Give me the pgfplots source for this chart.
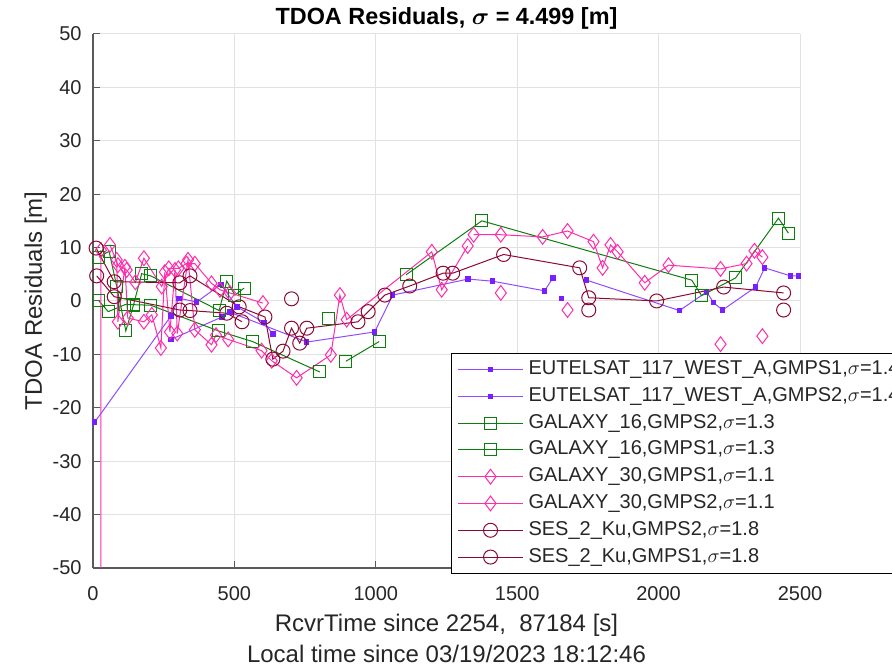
\documentclass[border=0pt]{standalone}
\usepackage{pgfplots}
\pgfplotsset{compat=1.18}
\usepackage{fontspec}
\setmainfont{Liberation Sans}
\usepackage{bm}
\definecolor{axisgray}{RGB}{90,90,90}
\definecolor{gridgray}{RGB}{225,225,225}
\definecolor{labgray}{RGB}{38,38,38}
\definecolor{purpleL}{RGB}{145,75,255}
\definecolor{purpleM}{RGB}{120,30,255}
\definecolor{greenL}{RGB}{10,128,10}
\definecolor{pinkL}{RGB}{255,45,170}
\definecolor{redL}{RGB}{140,10,50}
\begin{document}
\begin{tikzpicture}
\begin{axis}[
  name=ax, at={(0,0)}, anchor=south west,
  scale only axis, width=353.5pt, height=267pt,
  xmin=0, xmax=2500, ymin=-50, ymax=50,
  xtick={0,500,1000,1500,2000,2500},
  ytick={-50,-40,-30,-20,-10,0,10,20,30,40,50},
  axis x line*=bottom, axis y line*=left,
  axis line style={-, draw=axisgray, line width=0.6pt},
  tick align=inside, major tick length=3.5pt,
  tick style={draw=axisgray, line width=0.5pt},
  grid=major, major grid style={draw=gridgray, line width=0.5pt},
  ticklabel style={font=\fontsize{10}{12}\selectfont, text=labgray},
  /pgf/number format/assume math mode=true,
  /pgf/number format/1000 sep={},
  scaled ticks=false,
  xticklabel style={anchor=base, yshift=-16.5pt},
  yticklabel style={xshift=-2.2pt},
  unbounded coords=jump,
  title={\textbf{TDOA Residuals, $\bm{\sigma}$ = 4.499 [m]}},
  title style={at={(axis description cs:0.5,1)}, anchor=base, yshift=-1.5pt, font=\fontsize{11.7}{14}\selectfont, text=black, inner sep=0pt},
  xlabel={RcvrTime since 2254,\ \ 87184 [s]\\Local time since 03/19/2023 18:12:46},
  xlabel style={at={(axis description cs:0.5,0)}, anchor=base, yshift=-47.5pt, align=center, font=\fontsize{12}{15.5}\selectfont, text=labgray, inner sep=0pt},
  ylabel={TDOA Residuals [m]},
  ylabel style={at={([xshift=-25.5pt]axis description cs:0,0.5)}, anchor=base, rotate=0, font=\fontsize{12}{14}\selectfont, text=labgray, inner sep=0pt},
  legend cell align=left,
  legend image code/.code={\draw[mark repeat=2,mark phase=2,#1] plot coordinates {(0pt,0pt) (16.25pt,0pt) (32.5pt,0pt)};},
  legend style={at={(0.5064,0.4026)}, anchor=north west, draw=black, fill=white, line width=0.5pt,
    font=\fontsize{10}{12}\selectfont, text=labgray, inner sep=3pt, row sep=3.4pt,
    nodes={inner sep=0pt, text height=7.5pt, text depth=2.5pt},
    /tikz/every odd column/.append style={column sep=2.5pt}},
]
% EUTELSAT GMPS1
\addplot[color=purpleL, line width=0.5pt, mark=square*, mark size=1.1pt, mark options={solid, draw=purpleM, fill=purpleM}] coordinates {
(6,-22.7) (276,-2.8) (304,0.5) (367,-0.2) (452,3.1) (509,-1.1) (604,-4.0) (636,-6.2)
};
\addlegendentry{EUTELSAT\_117\_WEST\_A,GMPS1,$\sigma$=1.4}
% EUTELSAT GMPS2
\addplot[color=purpleL, line width=0.5pt, mark=square*, mark size=1.1pt, mark options={solid, draw=purpleM, fill=purpleM}] coordinates {
(276,-7.2) (456,-3.0) (484,-2.1) (756,-7.7) (996,-5.8) (1060,1.1) (1326,4.1) (1413,3.7) (1597,1.9) (1626,4.3)
(1640,nan) (1657,0.5) (1700,nan)
(1745,3.9) (2074,-1.8) (2170,1.7) (2194,-0.3) (2226,-1.7) (2343,2.6) (2375,6.2) (2466,4.7) (2495,4.7)
};
\addlegendentry{EUTELSAT\_117\_WEST\_A,GMPS2,$\sigma$=1.4}
% GALAXY_16 GMPS2
\addplot[color=greenL, line width=0.5pt, mark=square, mark size=3pt, mark options={solid}] coordinates {
(21,8.2) (57,9.3) (84,2.7) (116,-5.6) (143,-0.8) (172,5.1) (204,4.7) (446,-1.8) (473,3.7) (502,1.1) (534,2.4)
(800,nan)
(1107,4.9) (1375,15.0) (2117,3.9) (2152,1.0) (2272,4.3) (2424,15.5) (2459,12.7)
};
\addlegendentry{GALAXY\_16,GMPS2,$\sigma$=1.3}
% GALAXY_16 GMPS1
\addplot[color=greenL, line width=0.5pt, mark=square, mark size=3pt, mark options={solid}] coordinates {
(21,0.0) (54,-2.0) (113,-0.7) (143,-0.7) (204,-0.8) (443,-5.6) (564,-7.6) (802,-13.3)
(815,nan) (831,-3.3) (860,nan)
(894,-11.3) (1012,-7.6)
};
\addlegendentry{GALAXY\_16,GMPS1,$\sigma$=1.3}
% GALAXY_30 GMPS1
\addplot[color=pinkL, line width=0.5pt, mark=diamond, mark size=3.7pt, mark options={solid}] coordinates {
(28,9.5) (28,-600) (40,nan)
(60,10.5) (88,6.7) (119,5.8) (150,3.5) (180,8.0) (243,2.7) (268,6.1) (302,6.1) (331,7.0) (360,7.0) (419,3.3) (449,2.1) (484,1.5) (601,-0.4)
(900,nan)
(1346,12.4) (1442,12.4) (1590,12.0) (1678,13.1) (1770,11.1) (1802,6.2) (1830,10.5) (1855,9.2) (1951,3.4) (2035,6.7) (2219,6.0) (2311,7.0) (2339,9.4) (2367,8.2)
};
\addlegendentry{GALAXY\_30,GMPS1,$\sigma$=1.1}
% GALAXY_30 GMPS2
\addplot[color=pinkL, line width=0.5pt, mark=diamond, mark size=3.7pt, mark options={solid}] coordinates {
(84,7.7) (88,-3.9) (113,6.4) (123,-3.2) (180,-3.9) (208,-2.6) (240,-8.8) (254,5.4) (272,-5.8) (290,5.8) (298,-6.1) (336,7.7) (360,-5.4) (419,-8.2) (435,-6.4) (478,-7.2) (596,-9.3) (632,-11.2) (720,-14.4) (841,-10.1) (873,1.1) (897,-3.5) (1198,9.2) (1233,2.1) (1325,10.3)
(1400,nan) (1442,1.5) (1500,nan) (1678,-1.7) (1700,nan) (2219,-8.1) (2250,nan) (2367,-6.6)
};
\addlegendentry{GALAXY\_30,GMPS2,$\sigma$=1.1}
% SES_2_Ku GMPS2
\addplot[color=redL, line width=0.5pt, mark=o, mark size=3.5pt, mark options={solid}] coordinates {
(11,9.9) (75,3.6) (307,3.4) (343,4.7) (517,-1.1) (608,-3.0) (636,-10.9) (672,-9.4) (702,-5.1) (731,-7.9) (756,-5.1) (937,-3.9) (973,-2.0) (1032,1.1) (1120,2.8) (1238,5.2) (1272,5.2) (1452,8.7) (1721,6.2) (1753,0.6) (1993,0.0) (2230,2.6) (2442,1.5)
};
\addlegendentry{SES\_2\_Ku,GMPS2,$\sigma$=1.8}
% SES_2_Ku GMPS1
\addplot[color=redL, line width=0.5pt, mark=o, mark size=3.5pt, mark options={solid}] coordinates {
(13,4.7) (75,0.8) (307,-1.7) (343,-1.8) (473,-2.3) (527,-3.9)
(650,nan) (702,0.4) (800,nan) (1753,-1.7) (1900,nan) (2442,-1.7)
};
\addlegendentry{SES\_2\_Ku,GMPS1,$\sigma$=1.8}
\end{axis}
\pgfresetboundingbox
\path[use as bounding box] (-46.5pt,-49.5pt) rectangle (399.5pt,284pt);
\end{tikzpicture}
\end{document}
